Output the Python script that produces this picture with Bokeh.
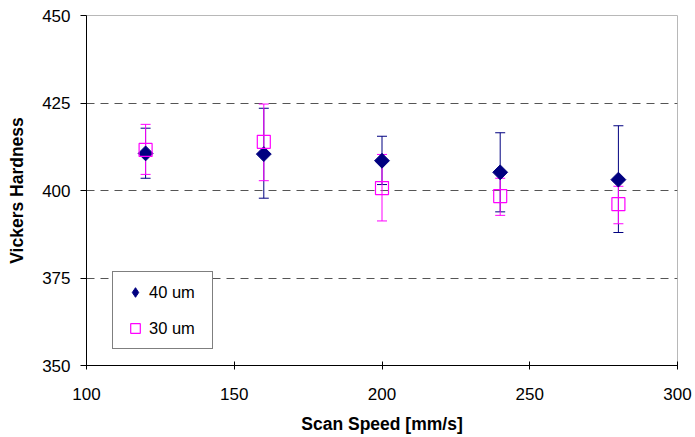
import math
from bokeh.plotting import figure
from bokeh.models import Range1d, FixedTicker, ColumnDataSource, Legend, LegendItem
from bokeh.embed import file_html
from bokeh.resources import INLINE

speed = [120, 160, 200, 240, 280]
hv40 = [410.6, 410.4, 408.5, 405.2, 403.1]
hv40_upper = [417.8, 423.5, 415.5, 416.5, 418.5]
hv40_lower = [403.5, 397.8, 401.7, 393.9, 388.0]
hv30 = [411.6, 413.9, 400.7, 398.4, 396.1]
hv30_upper = [418.9, 424.7, 410.3, 403.5, 401.2]
hv30_lower = [404.6, 402.8, 391.3, 392.9, 390.5]
x_ticks = [100, 150, 200, 250, 300]
y_ticks = [350, 375, 400, 425, 450]
labels = ["40 um", "30 um"]

NAVY = "#000080"
PINK = "#FF00FF"
FONT = "Liberation Sans"

p = figure(width=695, height=437, output_backend="svg", toolbar_location=None,
           x_range=Range1d(100, 300), y_range=Range1d(350, 450),
           min_border_left=86, min_border_right=18, min_border_top=15, min_border_bottom=72)
p.background_fill_color = "white"
p.border_fill_color = "white"
p.outline_line_color = "#b8b8b8"
p.outline_line_width = 1

s40 = ColumnDataSource(dict(x=speed, y=hv40, up=hv40_upper, lo=hv40_lower))
s30 = ColumnDataSource(dict(x=speed, y=hv30, up=hv30_upper, lo=hv30_lower))

for src, col in ((s40, NAVY), (s30, PINK)):
    p.segment(x0="x", y0="lo", x1="x", y1="up", source=src, line_color=col, line_width=1)
    p.scatter(x="x", y="up", source=src, marker="dash", size=10, line_color=col, line_width=1)
    p.scatter(x="x", y="lo", source=src, marker="dash", size=10, line_color=col, line_width=1)

r40 = p.scatter(x="x", y="y", source=s40, marker="square", size=10.5, angle=math.pi / 4,
                fill_color=NAVY, line_color=NAVY, line_width=1)
r30 = p.scatter(x="x", y="y", source=s30, marker="square", size=13,
                fill_alpha=0, line_color=PINK, line_width=1.2)

# hidden twin of the 40 um series, used only for the legend key (diamond shape)
leg40 = p.scatter(x="x", y="y", source=s40, marker="diamond", fill_color=NAVY,
                  line_color=NAVY, line_width=1, visible=False)

legend = Legend(items=[LegendItem(label=labels[0], renderers=[leg40]),
                       LegendItem(label=labels[1], renderers=[r30])],
                location=(26, 16))
legend.border_line_color = "black"
legend.border_line_width = 1
legend.background_fill_color = "white"
legend.background_fill_alpha = 1
legend.label_text_font = FONT
legend.label_text_font_size = "16.5px"
legend.label_text_color = "black"
legend.glyph_width = 28
legend.glyph_height = 24
legend.label_height = 24
legend.label_width = 55
legend.label_standoff = 0
legend.spacing = 12
legend.padding = 8
legend.margin = 0
p.add_layout(legend, "center")

p.xaxis.ticker = FixedTicker(ticks=x_ticks)
p.yaxis.ticker = FixedTicker(ticks=y_ticks)
p.xgrid.grid_line_color = None
p.ygrid.grid_line_color = "#555555"
p.ygrid.grid_line_dash = "8 6"
p.ygrid.grid_line_width = 1

for ax in (p.xaxis, p.yaxis):
    ax.axis_line_color = "black"
    ax.axis_line_width = 1
    ax.major_tick_line_color = "black"
    ax.minor_tick_line_color = None
    ax.major_label_text_font = FONT
    ax.major_label_text_font_size = "17px"
    ax.major_label_text_color = "black"
    ax.axis_label_text_font = FONT
    ax.axis_label_text_font_size = "17.5px"
    ax.axis_label_text_font_style = "bold"
    ax.axis_label_text_color = "black"

p.xaxis.axis_label = "Scan Speed [mm/s]"
p.yaxis.axis_label = "Vickers Hardness"
p.xaxis.major_tick_in = 4
p.xaxis.major_tick_out = 4
p.xaxis.major_label_standoff = 18
p.xaxis.axis_label_standoff = 11
p.yaxis.major_tick_in = 0
p.yaxis.major_tick_out = 6
p.yaxis.major_label_standoff = 10
p.yaxis.axis_label_standoff = 12

open("out.html", "w").write(file_html(p, INLINE))
